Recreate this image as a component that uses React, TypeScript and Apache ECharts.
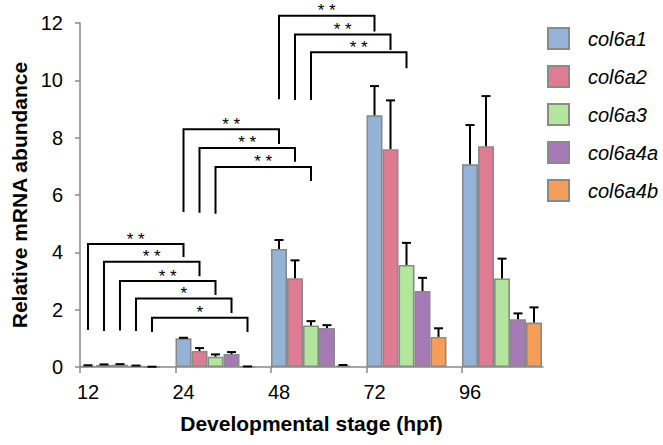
import React, { useEffect, useRef } from "react";
import * as echarts from "echarts";

// ---- data ----
const categories = ["12", "24", "48", "72", "96"];
const genes = ["col6a1", "col6a2", "col6a3", "col6a4a", "col6a4b"];
const colors = ["#95b3d7", "#df7b92", "#b4e59c", "#a87ab5", "#f79d5a"];

const col6a1 = [0.04, 1.0, 4.12, 8.78, 7.07];
const col6a2 = [0.07, 0.56, 3.1, 7.6, 7.7];
const col6a3 = [0.08, 0.36, 1.45, 3.56, 3.09];
const col6a4a = [0.04, 0.45, 1.36, 2.65, 1.67];
const col6a4b = [0.01, 0.02, 0.05, 1.05, 1.55];

const err6a1 = [0.02, 0.02, 0.31, 1.02, 1.37];
const err6a2 = [0.02, 0.1, 0.62, 1.7, 1.75];
const err6a3 = [0.02, 0.08, 0.15, 0.77, 0.69];
const err6a4a = [0.01, 0.07, 0.1, 0.46, 0.2];
const err6a4b = [0.0, 0.0, 0.02, 0.3, 0.53];

const yTicks = [0, 2, 4, 6, 8, 10, 12];

// significance brackets: [fromCat, fromBar, toCat, toBar, leftBottom, top, rightBottom, stars]
const brackets12to24 = [
  [0, 0, 1, 0, 1.29, 4.29, 3.84, 2],
  [0, 1, 1, 1, 1.26, 3.67, 3.17, 2],
  [0, 2, 1, 2, 1.27, 3.0, 2.51, 2],
  [0, 3, 1, 3, 1.26, 2.39, 1.88, 1],
  [0, 4, 1, 4, 1.22, 1.72, 1.22, 1],
];
const brackets24to48 = [
  [1, 0, 2, 0, 5.41, 8.29, 7.78, 2],
  [1, 1, 2, 1, 5.38, 7.64, 7.16, 2],
  [1, 2, 2, 2, 5.35, 6.98, 6.49, 2],
];
const brackets48to72 = [
  [2, 0, 3, 0, 9.34, 12.25, 11.7, 2],
  [2, 1, 3, 1, 9.31, 11.6, 11.06, 2],
  [2, 2, 3, 2, 9.31, 10.98, 10.42, 2],
];

const values = [col6a1, col6a2, col6a3, col6a4a, col6a4b];
const errors = [err6a1, err6a2, err6a3, err6a4a, err6a4b];

const FONT = '"Liberation Sans", Arial, sans-serif';
const BAR_W = 16;
const AXIS_COLOR = "#8a8a8a";

export default function App() {
  const ref = useRef<HTMLDivElement>(null);

  useEffect(() => {
    if (!ref.current) return;
    const chart = echarts.init(ref.current, undefined, { renderer: "svg" });

    const errData: number[][] = [];
    values.forEach((vals, s) => {
      vals.forEach((v, c) => errData.push([c, s, v, errors[s][c]]));
    });
    const bracketData = [...brackets12to24, ...brackets24to48, ...brackets48to72];

    const barSeries = genes.map((g, s) => ({
      name: g,
      type: "bar",
      xAxisIndex: 1,
      yAxisIndex: 1,
      barWidth: BAR_W,
      barGap: "0%",
      data: values[s],
      itemStyle: { color: colors[s], borderColor: AXIS_COLOR, borderWidth: 1.6 },
      z: 2,
    }));

    const option: any = {
      animation: false,
      textStyle: { fontFamily: FONT },
      legend: {
        data: genes,
        orient: "vertical",
        left: 547,
        top: 27,
        padding: 0,
        icon: "rect",
        itemWidth: 21,
        itemHeight: 21,
        itemGap: 15,
        textStyle: {
          fontFamily: FONT,
          fontStyle: "italic",
          fontSize: 20,
          lineHeight: 21,
          color: "#000",
          padding: [0, 0, 0, 14],
        },
      },
      grid: [
        { left: 80, right: 120, top: 23, bottom: 78 },
        { left: 72.25, right: 113.25, top: 23, bottom: 78 },
      ],
      xAxis: [
        {
          type: "value",
          gridIndex: 0,
          min: 0,
          max: 4.848,
          interval: 1,
          splitLine: { show: false },
          axisLine: { show: true, lineStyle: { color: AXIS_COLOR, width: 1.5 } },
          axisTick: {
            show: true,
            length: 6,
            customValues: [0, 1, 2, 3, 4],
            lineStyle: { color: AXIS_COLOR, width: 1.5 },
          },
          axisLabel: {
            customValues: [0, 1, 2, 3, 4],
            formatter: (v: number) => {
              const i = Math.round(v);
              return Math.abs(v - i) < 1e-6 && categories[i] ? categories[i] : "";
            },
            fontSize: 20,
            color: "#000",
            margin: 15,
            padding: [0, 0, 0, 16],
            fontFamily: FONT,
          },
          name: "Developmental stage (hpf)",
          nameLocation: "middle",
          nameGap: 46,
          nameTextStyle: { fontSize: 21, fontWeight: "bold", color: "#000", fontFamily: FONT },
        },
        {
          type: "category",
          gridIndex: 1,
          data: categories,
          boundaryGap: true,
          show: false,
        },
      ],
      yAxis: [
        {
          type: "value",
          gridIndex: 0,
          min: 0,
          max: 12,
          interval: 2,
          splitLine: { show: false },
          axisLine: { show: true, lineStyle: { color: AXIS_COLOR, width: 1.5 } },
          axisTick: { show: true, length: 5, lineStyle: { color: AXIS_COLOR, width: 1.5 } },
          axisLabel: {
            fontSize: 20,
            color: "#000",
            margin: 17,
            fontFamily: FONT,
            formatter: (v: number) => (yTicks.includes(v) ? String(v) : ""),
          },
          name: "Relative mRNA abundance",
          nameLocation: "middle",
          nameGap: 47,
          nameTextStyle: { fontSize: 21, fontWeight: "bold", color: "#000", fontFamily: FONT },
        },
        {
          type: "value",
          gridIndex: 1,
          min: 0,
          max: 12,
          show: false,
          splitLine: { show: false },
        },
      ],
      series: [
        ...barSeries,
        {
          type: "custom",
          name: "errors",
          xAxisIndex: 1,
          yAxisIndex: 1,
          clip: false,
          z: 5,
          encode: { x: 0, y: 2 },
          data: errData,
          renderItem: (params: any, api: any) => {
            const c = api.value(0);
            const s = api.value(1);
            const v = api.value(2);
            const e = api.value(3);
            const base = api.coord([c, v]);
            const top = api.coord([c, v + e]);
            const x = base[0] + (s - 2) * BAR_W;
            return {
              type: "group",
              children: [
                {
                  type: "line",
                  shape: { x1: x, y1: base[1], x2: x, y2: top[1] },
                  style: { stroke: "#000", lineWidth: 2 },
                },
                {
                  type: "line",
                  shape: { x1: x - 4.5, y1: top[1], x2: x + 4.5, y2: top[1] },
                  style: { stroke: "#000", lineWidth: 2 },
                },
              ],
            };
          },
        },
        {
          type: "custom",
          name: "brackets",
          xAxisIndex: 1,
          yAxisIndex: 1,
          clip: false,
          z: 6,
          encode: { x: 0, y: 5 },
          data: bracketData,
          renderItem: (params: any, api: any) => {
            const c1 = api.value(0);
            const b1 = api.value(1);
            const c2 = api.value(2);
            const b2 = api.value(3);
            const lb = api.value(4);
            const tp = api.value(5);
            const rb = api.value(6);
            const stars = api.value(7);
            const pL = api.coord([c1, lb]);
            const pT = api.coord([c1, tp]);
            const pR = api.coord([c2, rb]);
            const xL = pL[0] + (b1 - 2) * BAR_W;
            const xR = pR[0] + (b2 - 2) * BAR_W;
            return {
              type: "group",
              children: [
                {
                  type: "polyline",
                  shape: {
                    points: [
                      [xL, pL[1]],
                      [xL, pT[1]],
                      [xR, pT[1]],
                      [xR, pR[1]],
                    ],
                  },
                  style: { stroke: "#000", lineWidth: 2, fill: null },
                },
                {
                  type: "text",
                  x: (xL + xR) / 2,
                  y: pT[1] - 5,
                  style: {
                    text: stars === 2 ? "* *" : "*",
                    textAlign: "center",
                    textVerticalAlign: "middle",
                    fontSize: 17,
                    fontFamily: FONT,
                    fill: "#000",
                  },
                },
              ],
            };
          },
        },
      ],
    };

    chart.setOption(option);
    return () => chart.dispose();
  }, []);

  return (
    <div
      ref={ref}
      style={{ position: "fixed", left: 0, top: 0, width: 663, height: 445, background: "#fff" }}
    />
  );
}
